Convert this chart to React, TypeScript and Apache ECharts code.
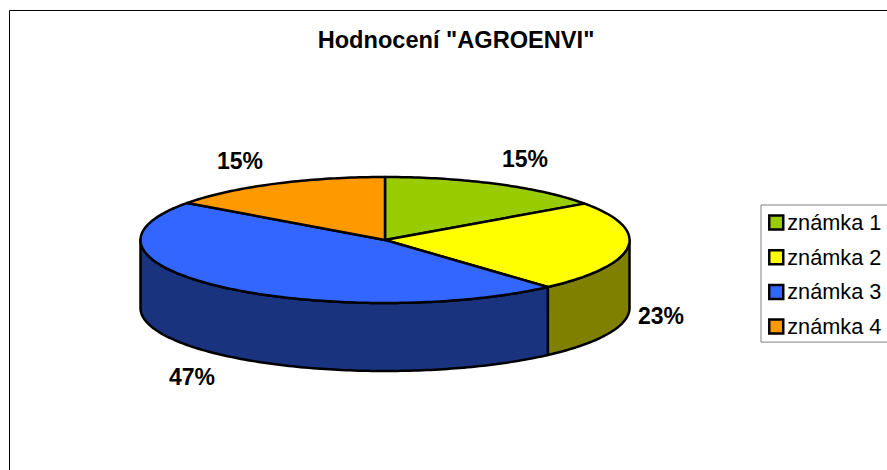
import React, { useEffect, useRef } from "react";
import * as echarts from "echarts";

const categories = ["známka 1", "známka 2", "známka 3", "známka 4"];
const values = [15.2, 23.2, 46.6, 15.0];
const topColors = ["#99CC00", "#FFFF00", "#3366FF", "#FF9900"];
const sideColors = ["#4D6600", "#808000", "#19337F", "#804D00"];
const labelAnchors = [
  [525, 159],
  [661, 316],
  [192, 377],
  [240, 161],
];
const titleText = 'Hodnocení "AGROENVI"';

const FONT = '"Liberation Sans", Arial, sans-serif';
const CX = 385;
const CY = 240;
const RX = 244.5;
const RY = 63;
const DEPTH = 68;

const total = values.reduce((a, b) => a + b, 0);
const rim = (deg: number, dy = 0): number[] => {
  const r = (deg * Math.PI) / 180;
  return [CX + RX * Math.sin(r), CY - RY * Math.cos(r) + dy];
};
const arcPoints = (from: number, to: number, dy = 0): number[][] => {
  const pts: number[][] = [];
  const n = Math.max(2, Math.ceil(Math.abs(to - from)));
  for (let i = 0; i <= n; i++) pts.push(rim(from + ((to - from) * i) / n, dy));
  return pts;
};

const makeSeries = (name: string, index: number) => ({
  type: "custom",
  name,
  coordinateSystem: "none",
  silent: true,
  z: 2,
  itemStyle: { color: topColors[index] },
  data: [[values[index]]],
  renderItem: (_params: unknown, api: any) => {
    const v = api.value(0);
    const before = values.slice(0, index).reduce((a, b) => a + b, 0);
    const start = (before / total) * 360;
    const end = start + (v / total) * 360;
    const children: any[] = [];
    const wallFrom = Math.max(start, 90);
    const wallTo = Math.min(end, 270);
    const line = { stroke: "#000", lineWidth: 2.5, lineJoin: "round" };
    if (wallFrom < wallTo) {
      children.push({
        type: "polygon",
        shape: {
          points: [
            ...arcPoints(wallFrom, wallTo),
            ...arcPoints(wallTo, wallFrom, DEPTH),
          ],
        },
        style: { fill: sideColors[index], ...line },
      });
    }
    children.push({
      type: "polygon",
      shape: { points: [[CX, CY], ...arcPoints(start, end)] },
      style: { fill: topColors[index], ...line },
    });
    children.push({
      type: "text",
      style: {
        text: `${Math.round((v / total) * 100)}%`,
        x: labelAnchors[index][0],
        y: labelAnchors[index][1],
        fill: "#000",
        font: `bold 23px ${FONT}`,
        textAlign: "center",
        textVerticalAlign: "middle",
      },
    });
    return { type: "group", children };
  },
});

export default function App() {
  const ref = useRef<HTMLDivElement>(null);
  useEffect(() => {
    document.body.style.margin = "0";
    const chart = echarts.init(ref.current!, null, { renderer: "svg" });
    chart.setOption({
      animation: false,
      backgroundColor: "#fff",
      title: {
        text: titleText,
        left: 456,
        top: 23,
        textAlign: "center",
        padding: [5, 9, 5, 0],
        textStyle: { fontFamily: FONT, fontWeight: "bold", fontSize: 23.6, color: "#000" },
      },
      legend: {
        orient: "vertical",
        left: 761,
        top: 205,
        padding: [6, 40, 4, 7],
        itemWidth: 14,
        itemHeight: 14,
        itemGap: 11.7,
        selectedMode: false,
        icon: "rect",
        borderColor: "#808080",
        borderWidth: 1,
        backgroundColor: "#fff",
        textStyle: { fontFamily: FONT, fontSize: 21.7, color: "#000", padding: [0, 0, 0, -1], lineHeight: 23 },
        itemStyle: { borderColor: "#000", borderWidth: 2.5 },
        data: categories,
      },
      graphic: [
        {
          type: "rect",
          z: -1,
          shape: { x: 9.5, y: 10.5, width: 920, height: 500 },
          style: { fill: "#fff", stroke: "#000", lineWidth: 1 },
        },
      ],
      series: categories.map(makeSeries),
    });
    return () => chart.dispose();
  }, []);
  return <div ref={ref} style={{ position: "fixed", left: 0, top: 0, width: 887, height: 470 }} />;
}
